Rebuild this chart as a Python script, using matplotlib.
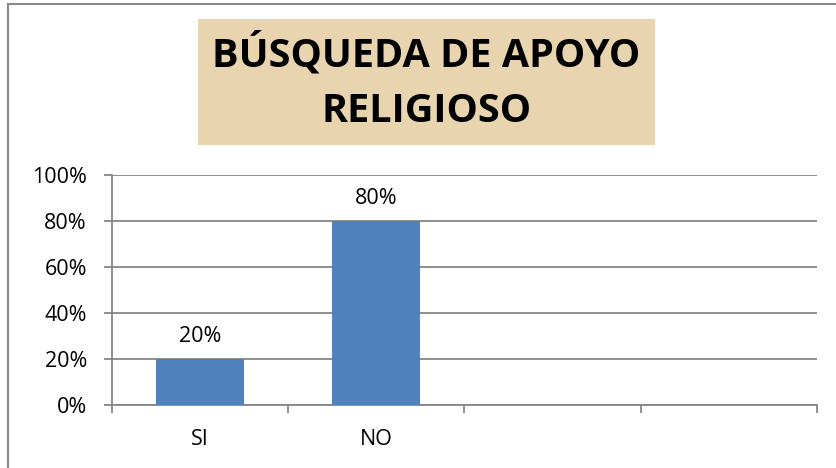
import matplotlib.pyplot as plt
import numpy as np
from matplotlib.patches import Rectangle
from matplotlib.lines import Line2D
from matplotlib.ticker import FixedLocator, PercentFormatter

# Data
categories = ['SI', 'NO', '', '']
values = [0.20, 0.80]          # only the first two categories have bars
bar_labels = ['20%', '80%']
yticks = [0, 0.2, 0.4, 0.6, 0.8, 1.0]
title_lines = ['BÚSQUEDA DE APOYO', 'RELIGIOSO']

plt.rcParams['font.family'] = ['Open Sans', 'DejaVu Sans']

fig = plt.figure(figsize=(8.37, 4.68), dpi=100)
W, H = 837, 468

ax = fig.add_axes([112 / W, 1 - 405 / H, 705 / W, 230 / H])

x = np.arange(len(values))
ax.bar(x, values, width=0.5, color='#4F81BD', zorder=3)
for xi, v, lab in zip(x, values, bar_labels):
    ax.annotate(lab, (xi, v), xytext=(0, 9), textcoords='offset points',
                ha='center', va='bottom', fontsize=15.5)

ax.set_xlim(-0.5, len(categories) - 0.5)
ax.set_ylim(0, 1.0)
ax.set_yticks(yticks)
ax.yaxis.set_major_formatter(PercentFormatter(1.0, decimals=0))
ax.set_xticks(np.arange(len(categories)))
ax.set_xticklabels(categories)
ax.xaxis.set_minor_locator(FixedLocator(np.arange(len(categories) + 1) - 0.5))

grid_col = '#868686'
ax.grid(axis='y', color=grid_col, linewidth=1.3, zorder=0)
for s in ['top', 'right']:
    ax.spines[s].set_visible(False)
for s in ['left', 'bottom']:
    ax.spines[s].set_color(grid_col)
    ax.spines[s].set_linewidth(1.3)

ax.tick_params(axis='y', length=6, width=1.3, color=grid_col, pad=12, labelsize=15.5)
ax.tick_params(axis='x', which='major', length=0, pad=17, labelsize=15.5)
ax.tick_params(axis='x', which='minor', length=6, width=1.3, color=grid_col)

# title box
fig.add_artist(Rectangle((198 / W, 1 - 145 / H), 457 / W, 126 / H,
                         transform=fig.transFigure, facecolor='#E8D5B0',
                         edgecolor='none', zorder=1))
fig.text(426.5 / W, 1 - 54 / H, title_lines[0], ha='center', va='center',
         fontsize=28.5, fontweight='bold', zorder=2)
fig.text(426.5 / W, 1 - 111 / H, title_lines[1], ha='center', va='center',
         fontsize=28.5, fontweight='bold', zorder=2)

# chart border (top and left visible)
fig.add_artist(Line2D([8.5 / W, 8.5 / W], [0, 1 - 3.5 / H], transform=fig.transFigure,
                      color='#8A8A8A', linewidth=1.5))
fig.add_artist(Line2D([8.5 / W, 1], [1 - 3.5 / H, 1 - 3.5 / H], transform=fig.transFigure,
                      color='#8A8A8A', linewidth=1.5))

fig.savefig('out.png', dpi=100)
